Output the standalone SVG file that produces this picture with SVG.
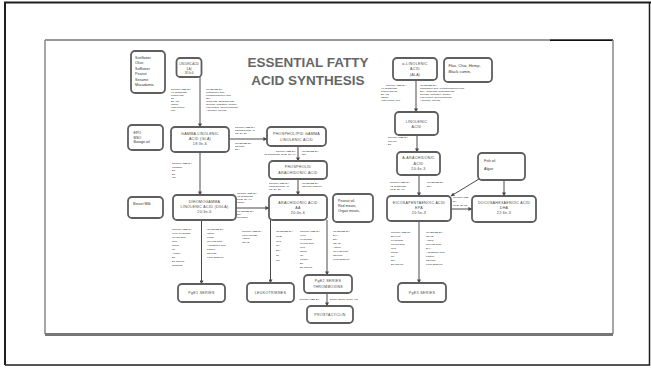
<svg xmlns="http://www.w3.org/2000/svg" width="651" height="368" viewBox="0 0 651 368">
<style>
  .box{fill:#fff;stroke:#5e5e5e;stroke-width:1.8}
  .lbl{font-family:"Liberation Sans",Arial,sans-serif;font-size:3.6px;fill:#444;text-anchor:middle;letter-spacing:0.3px}
  .lt{font-family:"Liberation Sans",Arial,sans-serif;font-size:3.6px;fill:#333}
  .s{font-family:"Liberation Sans",Arial,sans-serif;font-size:2.5px;fill:#1a1a1a}
  .title{font-family:"Liberation Sans",Arial,sans-serif;font-size:13.5px;font-weight:bold;fill:#666;text-anchor:middle}
  .c{stroke:#4a4a4a;stroke-width:1;fill:none;marker-end:url(#ah)}
</style>
<defs>
  <marker id="ah" markerWidth="4" markerHeight="4" refX="3.6" refY="2" orient="auto" markerUnits="userSpaceOnUse">
    <path d="M0,0 L4,2 L0,4 Z" fill="#4a4a4a"/>
  </marker>
</defs>
<rect width="651" height="368" fill="#fff"/>
<!-- page frame -->
<g id="frame" fill="none">
  <path d="M5,365 V2.5 H651" stroke="#1e1e1e" stroke-width="2"/>
  <path d="M5,365 H649.5 V2.5" stroke="#1e1e1e" stroke-width="1.5"/>
  <line x1="45" y1="40" x2="613" y2="40" stroke="#333" stroke-width="1"/>
  <line x1="550" y1="40.3" x2="613" y2="40.3" stroke="#111" stroke-width="1.6"/>
  <line x1="45" y1="40" x2="45" y2="334" stroke="#888" stroke-width="1.5"/>
  <line x1="613" y1="40" x2="613" y2="334" stroke="#888" stroke-width="1.5"/>
  <line x1="45" y1="334.5" x2="613" y2="334.5" stroke="#777" stroke-width="3"/>
</g>

<g id="title">
  <text class="title" x="308" y="66.7">ESSENTIAL FATTY</text>
  <text class="title" x="308" y="85">ACID SYNTHESIS</text>
</g>

<!-- connectors -->
<g id="connectors">
  <line class="c" x1="200" y1="77" x2="200" y2="127"/>
  <line class="c" x1="229" y1="139" x2="267" y2="139"/>
  <line class="c" x1="200" y1="152" x2="200" y2="195"/>
  <line class="c" x1="298" y1="146" x2="298" y2="161"/>
  <line class="c" x1="298" y1="179" x2="298" y2="195"/>
  <line class="c" x1="236" y1="208" x2="269" y2="208"/>
  <line class="c" x1="201.5" y1="220" x2="201.5" y2="284"/>
  <line class="c" x1="270.5" y1="220" x2="270.5" y2="283"/>
  <line class="c" x1="327" y1="220" x2="327" y2="275"/>
  <line class="c" x1="327" y1="293" x2="327" y2="306"/>
  <line class="c" x1="416" y1="80" x2="416" y2="112"/>
  <line class="c" x1="417" y1="135" x2="417" y2="152"/>
  <line class="c" x1="419" y1="175" x2="419" y2="196"/>
  <line class="c" x1="479" y1="179" x2="451" y2="196"/>
  <line class="c" x1="504" y1="180" x2="504" y2="196"/>
  <line class="c" x1="451" y1="209" x2="472" y2="209"/>
  <line class="c" x1="419" y1="221" x2="419" y2="283"/>
</g>

<!-- nodes -->
<g id="src-la">
  <rect class="box" x="131" y="51" width="34" height="42" rx="4"/>
  <text class="lt" x="135" y="58.5">Sunflower</text>
  <text class="lt" x="135" y="64">Olive,</text>
  <text class="lt" x="135" y="69.5">Safflower</text>
  <text class="lt" x="135" y="75">Peanut</text>
  <text class="lt" x="135" y="80.5">Sesame</text>
  <text class="lt" x="135" y="86">Macadamia</text>
</g>
<g id="la">
  <rect class="box" x="176.5" y="58" width="25" height="19" rx="3.5"/>
  <text class="lbl" x="189" y="64.5" style="font-size:2.7px;letter-spacing:0">LINOLEIC ACID</text>
  <text class="lbl" x="189" y="69.5" style="font-size:2.7px;letter-spacing:0">(LA)</text>
  <text class="lbl" x="189" y="74" style="font-size:2.7px;letter-spacing:0">18:2n-6</text>
</g>
<g id="ala">
  <rect class="box" x="393" y="58" width="44" height="22" rx="4"/>
  <text class="lbl" x="415" y="64.5">α-LINOLENIC</text>
  <text class="lbl" x="415" y="70">ACID</text>
  <text class="lbl" x="415" y="75.5">(ALA)</text>
</g>
<g id="src-ala">
  <rect class="box" x="444" y="58" width="48" height="24" rx="4"/>
  <text class="lt" x="448.5" y="67" style="font-size:4px">Flax, Chia, Hemp,</text>
  <text class="lt" x="448.5" y="72.5" style="font-size:4px">Black cumin,</text>
</g>
<g id="linolenic">
  <rect class="box" x="395" y="112" width="43" height="23" rx="4"/>
  <text class="lbl" x="416.5" y="122.5">LINOLENIC</text>
  <text class="lbl" x="416.5" y="128">ACID</text>
</g>
<g id="a-arachidonic">
  <rect class="box" x="397" y="152" width="43" height="23" rx="4"/>
  <text class="lbl" x="418.5" y="159">A-ARACHIDONIC</text>
  <text class="lbl" x="418.5" y="164.5">ACID</text>
  <text class="lbl" x="418.5" y="170">20:4n-3</text>
</g>
<g id="src-fish">
  <rect class="box" x="478" y="153" width="47" height="27" rx="4"/>
  <text class="lt" x="484" y="161.5">Fish oil</text>
  <text class="lt" x="484" y="170">Algae</text>
</g>
<g id="epa">
  <rect class="box" x="387" y="196" width="64" height="25" rx="4"/>
  <text class="lbl" x="419" y="204">EICOSAPENTAENOIC ACID</text>
  <text class="lbl" x="419" y="209.2">EPA</text>
  <text class="lbl" x="419" y="214.4">20:5n-3</text>
</g>
<g id="dha">
  <rect class="box" x="472" y="196" width="64" height="26" rx="4"/>
  <text class="lbl" x="504" y="204">DOCOSAHEXAENOIC ACID</text>
  <text class="lbl" x="504" y="209.2">DHA</text>
  <text class="lbl" x="504" y="214.4">22:6n-3</text>
</g>
<g id="pge3">
  <rect class="box" x="398" y="283" width="48" height="19" rx="4"/>
  <text class="lbl" x="422" y="294">PgE3 SERIES</text>
</g>
<g id="src-gla">
  <rect class="box" x="128" y="125" width="35" height="25" rx="4"/>
  <text class="lt" x="133.5" y="134">EPO</text>
  <text class="lt" x="133.5" y="138.5">BSO</text>
  <text class="lt" x="133.5" y="143">Borage oil</text>
</g>
<g id="gla">
  <rect class="box" x="171" y="127" width="58" height="25" rx="4"/>
  <text class="lbl" x="200" y="134.5">GAMMA LINOLENIC</text>
  <text class="lbl" x="200" y="139.7">ACID (GLA)</text>
  <text class="lbl" x="200" y="144.9">18:3n-6</text>
</g>
<g id="pgla">
  <rect class="box" x="267" y="127" width="59" height="19" rx="4"/>
  <text class="lbl" x="296.5" y="135">PHOSPHOLIPID GAMMA</text>
  <text class="lbl" x="296.5" y="140.5">LINOLENIC ACID</text>
</g>
<g id="paa">
  <rect class="box" x="269" y="161" width="58" height="18" rx="4"/>
  <text class="lbl" x="298" y="168">PHOSPHOLID</text>
  <text class="lbl" x="298" y="173.5">ARACHIDONIC ACID</text>
</g>
<g id="aa">
  <rect class="box" x="269" y="195" width="58" height="25" rx="4"/>
  <text class="lbl" x="298" y="203.5">ARACHIDONIC ACID</text>
  <text class="lbl" x="298" y="208.7">AA</text>
  <text class="lbl" x="298" y="213.9">20:4n-6</text>
</g>
<g id="src-aa">
  <rect class="box" x="333" y="194" width="40" height="28" rx="4"/>
  <text class="lt" x="338" y="202">Peanut oil,</text>
  <text class="lt" x="338" y="207">Red meats,</text>
  <text class="lt" x="338" y="212">Organ meats,</text>
</g>
<g id="dgla">
  <rect class="box" x="173" y="195" width="63" height="25" rx="4"/>
  <text class="lbl" x="204.5" y="203">DIHOMOGAMMA</text>
  <text class="lbl" x="204.5" y="208.2">LINOLENIC ACID (DGLA)</text>
  <text class="lbl" x="204.5" y="213.4">20:3n-6</text>
</g>
<g id="src-dgla">
  <rect class="box" x="128" y="197" width="35" height="21" rx="4"/>
  <text class="lt" x="133" y="204.5">Breast Milk</text>
</g>
<g id="pge1">
  <rect class="box" x="178" y="284" width="47" height="18" rx="4"/>
  <text class="lbl" x="201.5" y="294">PgE1 SERIES</text>
</g>
<g id="leukotrienes">
  <rect class="box" x="247" y="283" width="47" height="19" rx="4"/>
  <text class="lbl" x="270.5" y="294">LEUKOTRIENES</text>
</g>
<g id="pge2">
  <rect class="box" x="304" y="275" width="48" height="18" rx="4"/>
  <text class="lbl" x="328" y="282.3">PgE2 SERIES</text>
  <text class="lbl" x="328" y="287.6">THROMBOXINS</text>
</g>
<g id="prostacyclin">
  <rect class="box" x="307" y="306" width="46" height="17" rx="4"/>
  <text class="lbl" x="330" y="316.2">PROSTACYCLIN</text>
</g>

<!-- cofactor notes -->
<g id="notes" class="s">
  <text x="171" y="90">STIMULATED BY:<tspan x="171" dy="3">Δ6-desaturase</tspan><tspan x="171" dy="3">protein and</tspan><tspan x="171" dy="3">Zn</tspan><tspan x="171" dy="3">B6, Mg</tspan><tspan x="171" dy="3">Insulin</tspan><tspan x="171" dy="3">High protein</tspan><tspan x="171" dy="3">LTP</tspan></text>
  <text x="206" y="90">INHIBITED BY:<tspan x="206" dy="3">arachidonic acid,</tspan><tspan x="206" dy="3">eicosapentaenoic acid</tspan><tspan x="206" dy="3">EPA</tspan><tspan x="206" dy="3">Trans fats, Saturated fats</tspan><tspan x="206" dy="3">Glucose, Radiation, alcohol,</tspan><tspan x="206" dy="3">Low protein, Glucocorticoids,</tspan><tspan x="206" dy="3">Adrenalin, Thyroid</tspan></text>

  <text x="386" y="86">STIMULATED BY:<tspan x="381" dy="3">Δ6-desaturase</tspan><tspan x="381" dy="3">protein and Zn</tspan><tspan x="381" dy="3">B6, Mg</tspan><tspan x="381" dy="3">Insulin</tspan><tspan x="381" dy="3">High protein, LTP</tspan></text>
  <text x="420" y="86">INHIBITED BY:<tspan x="420" dy="3">arachidonic acid, eicosapentaenoic acid</tspan><tspan x="420" dy="3">EPA, Trans fats, Saturated fats</tspan><tspan x="420" dy="3">Glucose, Radiation, alcohol,</tspan><tspan x="420" dy="3">Low protein, Glucocorticoids,</tspan><tspan x="420" dy="3">Adrenalin, Thyroid</tspan></text>

  <text x="235" y="127.5">STIMULATED BY:<tspan x="235" dy="3.2">phospholipase A2</tspan><tspan x="235" dy="3.2">Ca, Zn, B4</tspan></text>
  <text x="235" y="143.5">INHIBITED BY:<tspan x="235" dy="3.2">Steroids</tspan><tspan x="235" dy="3.2">EPA</tspan></text>

  <text x="296" y="151.5" text-anchor="end">STIMULATED BY:<tspan x="296" dy="3">Δ5-desaturase   UFIB, Zn, v.c.</tspan></text>
  <text x="302" y="151.5">INHIBITED BY:<tspan x="302" dy="3">EPA</tspan></text>

  <text x="269" y="184">STIMULATED BY:<tspan x="269" dy="3">phospholipase A2</tspan><tspan x="269" dy="3">Ca, Zn, B4</tspan></text>
  <text x="302" y="184">INHIBITED BY:<tspan x="302" dy="3">Steroids, Caffeine</tspan></text>

  <text x="172" y="164">STIMULATED BY:<tspan x="172" dy="3.5">elongase</tspan><tspan x="172" dy="3.5">B3</tspan><tspan x="172" dy="3.5">B6</tspan><tspan x="172" dy="3.5">Mg</tspan></text>

  <text x="237" y="194">STIMULATED BY:<tspan x="237" dy="3">Δ5-desaturase</tspan><tspan x="237" dy="3">UFIB, Zn, v.c.</tspan><tspan x="237" dy="3">Insulin</tspan></text>
  <text x="237" y="211.5">INHIBITED BY:<tspan x="237" dy="3">EPA</tspan><tspan x="237" dy="3">Glucagon</tspan></text>

  <text x="172" y="230">STIMULATED BY:<tspan x="172" dy="4">cyclo-oxygenase</tspan><tspan x="172" dy="4">UF/low dose</tspan><tspan x="172" dy="4">UFC</tspan><tspan x="172" dy="4">Niacin</tspan><tspan x="172" dy="4">Cu</tspan><tspan x="172" dy="4">Alcohol</tspan><tspan x="172" dy="4">B6</tspan><tspan x="172" dy="4">B6 and Mg</tspan><tspan x="172" dy="4">Retinoids</tspan></text>
  <text x="207" y="230">INHIBITED BY:<tspan x="207" dy="4">Insulin</tspan><tspan x="207" dy="4">Lipids</tspan><tspan x="207" dy="4">UF/High dose</tspan><tspan x="207" dy="4">Arachidonic acid</tspan><tspan x="207" dy="4">Lithium</tspan><tspan x="207" dy="4">Steroids</tspan><tspan x="207" dy="4">Food additives</tspan></text>

  <text x="242" y="232">STIMULATED BY:<tspan x="242" dy="3.7">Lipoxygenase</tspan><tspan x="242" dy="3.7">Aspirin</tspan><tspan x="242" dy="3.7">NSAID</tspan></text>
  <text x="276" y="232">INHIBITED BY:<tspan x="276" dy="4.8">UFIB</tspan><tspan x="276" dy="4.8">UFC</tspan><tspan x="276" dy="4.8">Cu</tspan><tspan x="276" dy="4.8">EPA</tspan><tspan x="276" dy="4.8">Zn</tspan><tspan x="276" dy="4.8">Sel</tspan></text>
  <text x="300" y="232">STIMULATED BY:<tspan x="300" dy="4">cyclo-</tspan><tspan x="300" dy="4">oxygenase</tspan><tspan x="300" dy="4">UF/low dose</tspan><tspan x="300" dy="4">UFC</tspan><tspan x="300" dy="4">Niacin</tspan><tspan x="300" dy="4">Cu</tspan><tspan x="300" dy="4">alcohol</tspan><tspan x="300" dy="4">B6</tspan><tspan x="300" dy="4">B6 and Mg</tspan></text>
  <text x="333" y="232">INHIBITED BY:<tspan x="333" dy="4">DHA</tspan><tspan x="333" dy="4">EPA</tspan><tspan x="333" dy="4">NSAID</tspan><tspan x="333" dy="4">Aspirin</tspan><tspan x="333" dy="4">UF/High dose</tspan><tspan x="333" dy="4">Steroids</tspan><tspan x="333" dy="4">Food additives</tspan></text>

  <text x="299.5" y="299.5">STIMULATED BY:</text>
  <text x="329.5" y="299.5">Ginger, Onion, Garlic, Mg</text>

  <text x="388" y="138">STIMULATED BY:<tspan x="388" dy="3.5">enzyme</tspan><tspan x="388" dy="3.5">B6</tspan></text>

  <text x="390" y="183">STIMULATED BY:<tspan x="390" dy="3.5">Δ5-desaturase</tspan><tspan x="390" dy="3.5">UFIB, Zn, v.c.</tspan></text>
  <text x="427" y="183">INHIBITED BY:<tspan x="427" dy="3.5">EPA</tspan></text>

  <text x="453" y="197.5">STIMULATED<tspan x="453" dy="4">BY:</tspan><tspan x="453" dy="4">UFIB, Zn Mg</tspan></text>

  <text x="391" y="233">STIMULATED BY:<tspan x="391" dy="4">B6      cyclo-</tspan><tspan x="391" dy="4">oxygenase</tspan><tspan x="391" dy="4">UF/low dose</tspan><tspan x="391" dy="4">UFC</tspan><tspan x="391" dy="4">Niacin</tspan><tspan x="391" dy="4">Cu</tspan><tspan x="391" dy="4">EPA</tspan><tspan x="391" dy="4">B6 and Mg</tspan></text>
  <text x="426" y="233">INHIBITED BY:<tspan x="426" dy="4">NSAID</tspan><tspan x="426" dy="4">Aspirin</tspan><tspan x="426" dy="4">UF/High dose</tspan><tspan x="426" dy="4">DHA</tspan><tspan x="426" dy="4">Arachidonic acid</tspan><tspan x="426" dy="4">Lithium</tspan><tspan x="426" dy="4">Steroids</tspan><tspan x="426" dy="4">Food additives</tspan></text>
</g>
</svg>
